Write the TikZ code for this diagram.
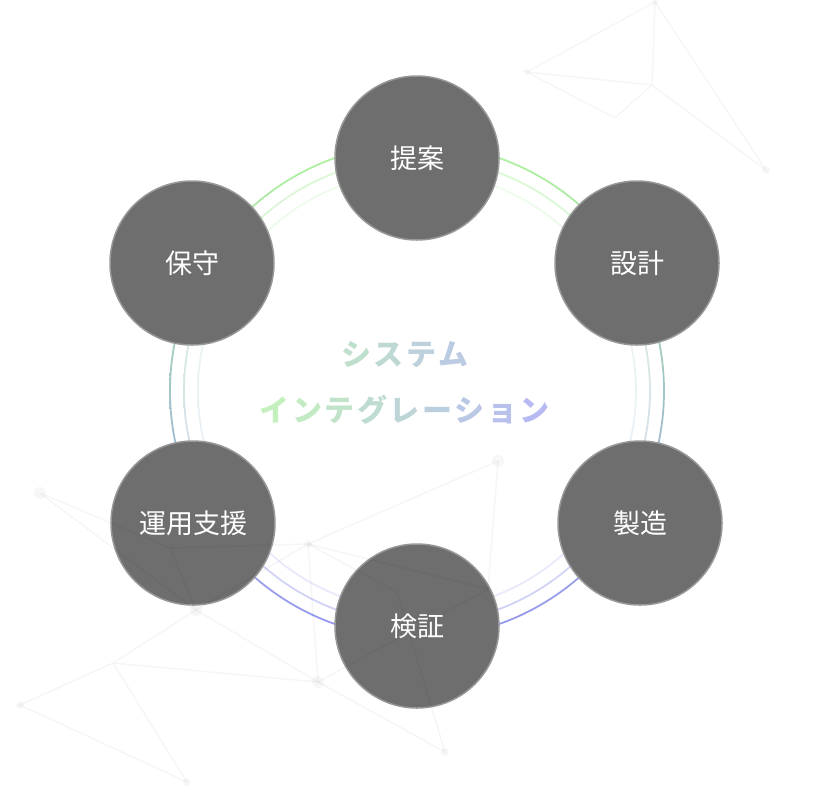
\documentclass[tikz,border=0pt]{standalone}
\usepackage{fontspec}
\usepackage{xcolor}
\usepackage{tikz}
\usetikzlibrary{positioning}
\newfontfamily\jpfont{Noto Sans CJK JP}
\definecolor{stepgray}{RGB}{110,110,110}
\definecolor{stepedge}{RGB}{152,152,152}
\definecolor{ringgreen}{RGB}{176,244,156}
\definecolor{ringblue}{RGB}{150,150,242}
\definecolor{titlegreen}{RGB}{196,244,184}
\definecolor{titleblue}{RGB}{182,182,246}
\tikzset{
  process/.style={circle, fill=stepgray, draw=stepedge, line width=1.5pt,
    minimum size=164pt, inner sep=0pt, text=white,
    font=\jpfont\fontsize{27}{27}\selectfont},
  net/.style={draw=black, draw opacity=0.035, line width=1.5pt},
  netdot/.style={fill=black, fill opacity=0.03},
  title/.style={inner sep=0pt, font=\jpfont\bfseries\fontsize{30}{30}\selectfont}
}
\newcommand{\tc}[2]{\textcolor{titleblue!#1!titlegreen}{#2}\kern2.5pt}

\begin{document}
\begin{tikzpicture}[x=1pt,y=-1pt]
  \useasboundingbox (0,0) rectangle (818,804);
  % rings
  \foreach \r/\c in {247/100, 233/45, 219/22}
  \shade[even odd rule, top color=ringgreen!\c!white, bottom color=ringblue!\c!white]
    (417,391) circle (\r+0.9) (417,391) circle (\r-0.9);

  \node[process] (teian) at (417,158) {提案};
  \node[process] (sekkei) at (637,263) {設計};
  \node[process] (seizo) at (640,523) {製造};
  \node[process] (kensho) at (417,626) {検証};
  \node[process] (unyo) at (193,523) {運用支援};
  \node[process] (hoshu) at (192,263) {保守};

  % background network
  \coordinate (a) at (655,2);
  \coordinate (b) at (527,72);
  \coordinate (c) at (652,85);
  \coordinate (d) at (615,118);
  \coordinate (e) at (766,170);
  \draw[net] (b) -- (a) -- (c) -- (b) -- (d) -- (c) -- (e) -- (a);
  \coordinate (p1) at (40,493);
  \coordinate (p2) at (498,461);
  \coordinate (p3) at (308,544);
  \coordinate (q) at (170,548);
  \coordinate (p4) at (196,610);
  \coordinate (p5) at (318,682);
  \coordinate (p6) at (113,663);
  \coordinate (p7) at (20,705);
  \coordinate (p8) at (187,782);
  \coordinate (p9) at (445,752);
  \coordinate (r) at (488,589);
  \coordinate (s) at (397,592);
  \draw[net] (p1) -- (q) -- (p4) -- (p1);
  \draw[net] (q) -- (p3) -- (p4);
  \draw[net] (p2) -- (p3) -- (p5);
  \draw[net] (p3) -- (r) -- (p2);
  \draw[net] (p3) -- (s) -- (p9) -- (p5) -- (r);
  \draw[net] (p6) -- (p5) -- (p4) -- (p6);
  \draw[net] (p6) -- (p7) -- (p8) -- (p6);
  \foreach \p/\s in {a/3, b/3, e/4, p1/6, p2/6, p3/4, p4/6, p5/6, p7/4, p8/4, p9/4}
  \fill[netdot] (\p) circle (\s);

  \node[title] (upper) at (406,355) {\tc{34}{シ}\tc{45}{ス}\tc{56}{テ}\tc{66}{ム}};
  \node[title] (lower) at (406,410) {\tc{6}{イ}\tc{17}{ン}\tc{28}{テ}\tc{39}{グ}\tc{50}{レ}\tc{61}{ー}\tc{72}{シ}\tc{83}{ョ}\tc{94}{ン}};
\end{tikzpicture}
\end{document}
